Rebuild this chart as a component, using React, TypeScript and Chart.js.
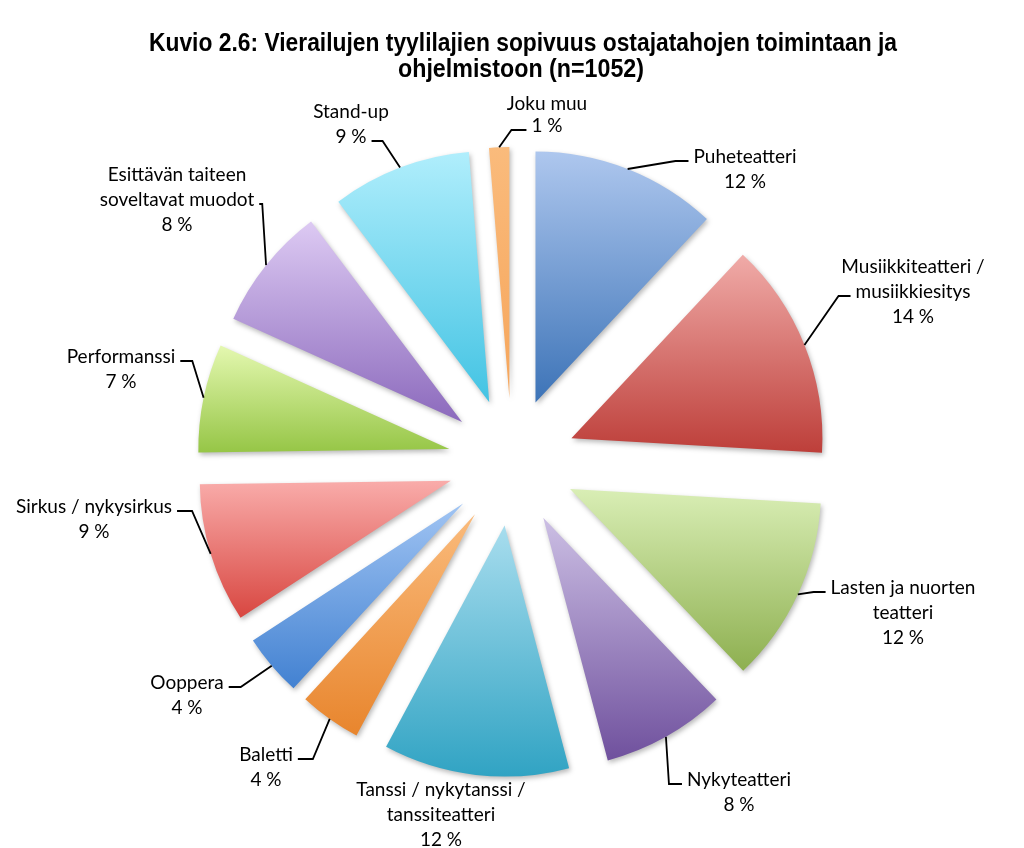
import React, { useEffect, useRef } from "react";
import { Chart, registerables } from "chart.js";

Chart.register(...registerables);

// ---------- data ----------
const categories = [
  "Puheteatteri",
  "Musiikkiteatteri / musiikkiesitys",
  "Lasten ja nuorten teatteri",
  "Nykyteatteri",
  "Tanssi / nykytanssi / tanssiteatteri",
  "Baletti",
  "Ooppera",
  "Sirkus / nykysirkus",
  "Performanssi",
  "Esittävän taiteen soveltavat muodot",
  "Stand-up",
  "Joku muu",
];

const labelLines = [
  ["Puheteatteri"],
  ["Musiikkiteatteri /", "musiikkiesitys"],
  ["Lasten ja nuorten", "teatteri"],
  ["Nykyteatteri"],
  ["Tanssi / nykytanssi /", "tanssiteatteri"],
  ["Baletti"],
  ["Ooppera"],
  ["Sirkus / nykysirkus"],
  ["Performanssi"],
  ["Esittävän taiteen", "soveltavat muodot"],
  ["Stand-up"],
  ["Joku muu"],
];

const percentages = [12, 14, 12, 8, 12, 4, 4, 9, 7, 8, 9, 1.3];

const titleLines = [
  "Kuvio 2.6: Vierailujen tyylilajien sopivuus ostajatahojen toimintaan ja",
  "ohjelmistoon (n=1052)",
];

// ---------- styles ----------
const lightColors = [
  "#aec7ee", "#f0aba8", "#d9eeb5", "#ccbfe4", "#a8ddee", "#fabb7c",
  "#a0c4f3", "#f9acaa", "#e4f8b0", "#ddcaf3", "#b0eefc", "#fabb7c",
];
const darkColors = [
  "#3c73b7", "#bd3e39", "#8daf4f", "#6f509d", "#30a3c3", "#e8852d",
  "#4281d1", "#d84640", "#95c545", "#8b69bc", "#42c3e3", "#f6a55a",
];

const EXPLODE = 64;
const RADIUS = 251;
const LABEL_FONT = "19px Lato, 'Open Sans', sans-serif";
const LINE_H = 25;

// label placement (text block centre x, first line middle y)
const labelLayout = [
  { x: 745, y: 157, attach: 0, side: "L", elbow: 13 },
  { x: 913, y: 267, attach: 1, side: "L", elbow: 12 },
  { x: 903, y: 588, attach: 0, side: "L", elbow: 12 },
  { x: 739, y: 780, attach: 0, side: "L", elbow: 13 },
  { x: 441, y: 790, attach: -1, side: "L", elbow: 0 },
  { x: 266, y: 755, attach: 0, side: "R", elbow: 15 },
  { x: 187, y: 683, attach: 0, side: "R", elbow: 12 },
  { x: 94, y: 507, attach: 0, side: "R", elbow: 15 },
  { x: 121, y: 357, attach: 0, side: "R", elbow: 12 },
  { x: 177, y: 175, attach: 1, side: "R", elbow: 3 },
  { x: 351, y: 112, attach: 1, side: "R", elbow: 11 },
  { x: 547, y: 104, attach: 1, side: "L", elbow: 15, lh: 22 },
];

function sliceGradient(context: any) {
  const i = context.dataIndex;
  const chart = context.chart;
  const area = chart.chartArea;
  if (!area) return darkColors[i];
  const cx = (area.left + area.right) / 2;
  const cy = (area.top + area.bottom) / 2;
  const total = percentages.reduce((a, b) => a + b, 0);
  let acc = 0;
  for (let k = 0; k < i; k++) acc += percentages[k];
  const a0 = -Math.PI / 2 + (acc / total) * Math.PI * 2;
  const a1 = a0 + (percentages[i] / total) * Math.PI * 2;
  const ys = [cy, cy + Math.sin(a0) * RADIUS, cy + Math.sin(a1) * RADIUS];
  for (const ang of [-Math.PI / 2, Math.PI / 2, (3 * Math.PI) / 2]) {
    if (ang >= a0 && ang <= a1) ys.push(cy + Math.sin(ang) * RADIUS);
  }
  const minY = Math.min(...ys);
  const maxY = Math.max(...ys);
  const g = chart.ctx.createLinearGradient(0, minY, 0, maxY + 1);
  g.addColorStop(0, lightColors[i]);
  g.addColorStop(1, darkColors[i]);
  return g;
}

const explodePlugin = {
  id: "explode",
  beforeDatasetDraw(chart: any, args: any) {
    const ctx = chart.ctx;
    args.meta.data.forEach((arc: any) => {
      const mid = (arc.startAngle + arc.endAngle) / 2;
      ctx.save();
      ctx.translate(Math.cos(mid) * EXPLODE, Math.sin(mid) * EXPLODE);
      ctx.shadowColor = "rgba(0,0,0,0.28)";
      ctx.shadowBlur = 5;
      ctx.shadowOffsetX = 1.5;
      ctx.shadowOffsetY = 2.5;
      arc.draw(ctx);
      ctx.restore();
    });
    return false;
  },
};

const labelPlugin = {
  id: "outerLabels",
  afterDatasetsDraw(chart: any) {
    const ctx = chart.ctx;
    const meta = chart.getDatasetMeta(0);
    ctx.save();
    ctx.font = LABEL_FONT;
    ctx.fillStyle = "#000";
    ctx.strokeStyle = "#000";
    ctx.lineWidth = 1.8;
    ctx.textAlign = "center";
    ctx.textBaseline = "middle";
    meta.data.forEach((arc: any, i: number) => {
      const L = labelLayout[i];
      const lh = L.lh || LINE_H;
      const lines = [...labelLines[i], `${Math.round(percentages[i])} %`];
      lines.forEach((t, k) => ctx.fillText(t, L.x, L.y + k * lh));
      if (L.attach >= 0) {
        const mid = (arc.startAngle + arc.endAngle) / 2;
        const R = arc.outerRadius + EXPLODE;
        const sx = arc.x + Math.cos(mid) * R;
        const sy = arc.y + Math.sin(mid) * R;
        const w = ctx.measureText(lines[L.attach]).width;
        const ly = L.y + L.attach * lh + 4;
        const ex = L.side === "L" ? L.x - w / 2 - 5 : L.x + w / 2 + 5;
        const bx = L.side === "L" ? ex - L.elbow : ex + L.elbow;
        ctx.beginPath();
        ctx.moveTo(sx, sy);
        ctx.lineTo(bx, ly);
        ctx.lineTo(ex, ly);
        ctx.stroke();
      }
    });
    ctx.restore();
  },
};

const titlePlugin = {
  id: "customTitle",
  afterDraw(chart: any) {
    const ctx = chart.ctx;
    ctx.save();
    ctx.font = "bold 25px 'Liberation Sans', Arial, sans-serif";
    ctx.fillStyle = "#000";
    ctx.textAlign = "center";
    ctx.textBaseline = "alphabetic";
    ctx.fillText(titleLines[0], 523, 51, 748);
    ctx.fillText(titleLines[1], 521, 77, 246);
    ctx.restore();
  },
};

export default function App() {
  const ref = useRef<HTMLCanvasElement | null>(null);
  useEffect(() => {
    if (!ref.current) return;
    const chart = new Chart(ref.current, {
      type: "pie",
      data: {
        labels: categories,
        datasets: [
          {
            data: percentages,
            backgroundColor: sliceGradient as any,
            borderWidth: 0,
          },
        ],
      },
      options: {
        responsive: false,
        animation: false,
        radius: RADIUS,
        layout: { padding: { top: 76, left: 0, right: 0, bottom: 0 } },
        plugins: {
          legend: { display: false },
          tooltip: { enabled: false },
          title: { display: false },
        },
        events: [],
      } as any,
      plugins: [explodePlugin, labelPlugin, titlePlugin],
    });
    return () => chart.destroy();
  }, []);
  return (
    <div style={{ position: "absolute", left: 0, top: 0, width: 1024, height: 848, background: "#fff" }}>
      <canvas ref={ref} width={1024} height={848} style={{ display: "block", width: 1024, height: 848 }} />
    </div>
  );
}
